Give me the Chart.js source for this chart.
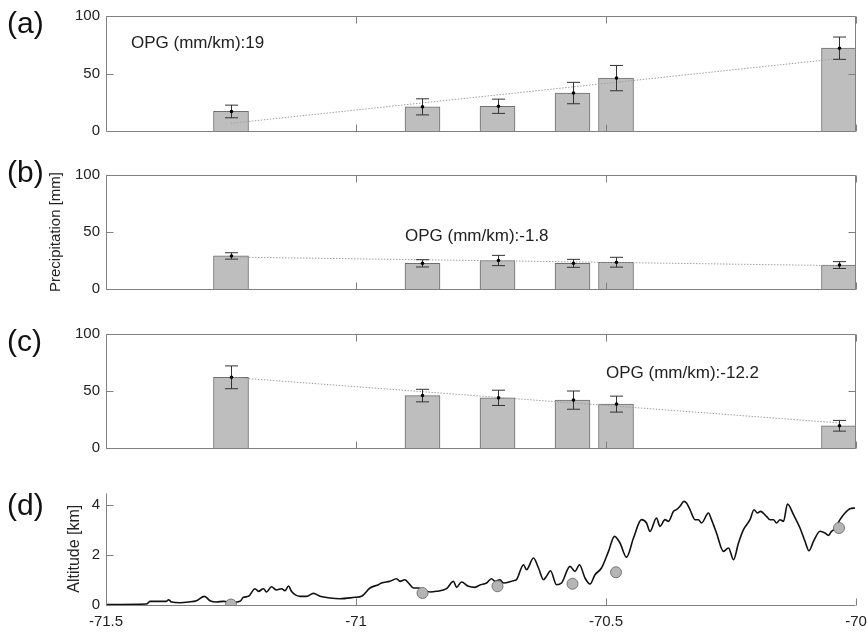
<!DOCTYPE html>
<html>
<head>
<meta charset="utf-8">
<script src="https://cdn.jsdelivr.net/npm/chart.js@4.4.1/dist/chart.umd.min.js"></script>
<style>
body { margin: 0; background: #fff; }
#wrap { position: relative; width: 867px; height: 633px; }
#wrap canvas { position: absolute; left: 0; }
</style>
</head>
<body>
<div id="wrap">
  <canvas id="panelA" width="867" height="150" style="top:0px"></canvas>
  <canvas id="panelB" width="867" height="160" style="top:150px"></canvas>
  <canvas id="panelC" width="867" height="160" style="top:310px"></canvas>
  <canvas id="panelD" width="867" height="163" style="top:470px"></canvas>
</div>
<script>
// station longitudes (deg) and altitudes (km)
const stationLon = [-71.25, -70.867, -70.717, -70.567, -70.48, -70.034];
const stationAlt = [0.02, 0.48, 0.75, 0.85, 1.31, 3.08];

// precipitation per station [mm] and error bar half-lengths
const precipA = [17, 21, 21.5, 33, 46, 72];
const errA = [5.5, 7, 6.2, 9.3, 11, 9.7];
const precipB = [29, 22.5, 25, 22.5, 23.5, 21];
const errB = [2.8, 3.2, 4.5, 3.5, 4.3, 3];
const precipC = [62, 46, 44, 42, 38.5, 19.5];
const errC = [10, 5.5, 6.7, 8, 7, 4.7];

// fitted OPG lines (endpoints)
const trendLon = [-71.25, -70.034];
const trendA = [6.7, 63];
const trendB = [28, 20.5];
const trendC = [62, 22];

// tick values
const lonTicks = [-71.5, -71, -70.5, -70];
const precipTicks = [0, 50, 100];
const altTicks = [0, 2, 4];

// topographic profile along the transect
const profileLon = [-71.5, -71.419, -71.412, -71.379, -71.375, -71.369, -71.352, -71.335, -71.319, -71.303,
  -71.292, -71.279, -71.265, -71.245, -71.232, -71.225, -71.215, -71.202, -71.195, -71.185,
  -71.179, -71.169, -71.159, -71.149, -71.142, -71.135, -71.129, -71.122, -71.112, -71.099,
  -71.085, -71.072, -71.052, -71.032, -71.002, -70.989, -70.972, -70.955, -70.949, -70.932,
  -70.919, -70.912, -70.902, -70.895, -70.885, -70.875, -70.865, -70.852, -70.839, -70.819,
  -70.805, -70.799, -70.789, -70.775, -70.762, -70.752, -70.739, -70.729, -70.722, -70.712,
  -70.705, -70.685, -70.679, -70.665, -70.659, -70.645, -70.635, -70.625, -70.619, -70.611,
  -70.599, -70.589, -70.572, -70.562, -70.553, -70.542, -70.532, -70.522, -70.509, -70.495,
  -70.483, -70.472, -70.459, -70.445, -70.429, -70.419, -70.412, -70.399, -70.392, -70.382,
  -70.375, -70.365, -70.359, -70.352, -70.344, -70.339, -70.332, -70.322, -70.315, -70.309,
  -70.295, -70.289, -70.279, -70.265, -70.255, -70.245, -70.235, -70.225, -70.212, -70.204,
  -70.197, -70.191, -70.179, -70.172, -70.165, -70.159, -70.152, -70.145, -70.137, -70.125,
  -70.112, -70.102, -70.094, -70.085, -70.072, -70.062, -70.055, -70.049, -70.042, -70.032,
  -70.022, -70.012, -70.002];
const profileAlt = [0.02, 0.04, 0.147, 0.147, 0.21, 0.12, 0.093, 0.12, 0.173, 0.347,
  0.173, 0.12, 0.147, 0.107, 0.147, 0.307, 0.347, 0.653, 0.547, 0.653,
  0.52, 0.733, 0.6, 0.653, 0.573, 0.76, 0.547, 0.413, 0.347, 0.347,
  0.467, 0.347, 0.28, 0.253, 0.307, 0.347, 0.68, 0.813, 0.88, 0.947,
  1.053, 0.947, 1.013, 0.88, 0.68, 0.68, 0.613, 0.52, 0.547, 0.653,
  0.947, 0.707, 0.92, 0.747, 0.707, 0.8, 0.88, 1.053, 0.947, 1.013,
  0.88, 0.973, 1.013, 1.613, 1.413, 1.88, 1.48, 1.013, 1.147, 1.373,
  0.813, 0.88, 1.547, 1.347, 1.613, 1.08, 0.84, 1.213, 1.48, 2.147,
  2.747, 2.48, 1.907, 2.68, 3.413, 3.28, 2.947, 3.48, 3.147, 3.413,
  3.347, 3.747, 3.813, 3.947, 4.147, 4.08, 3.813, 3.413, 3.413, 3.28,
  3.68, 3.413, 2.88, 2.147, 2.28, 1.813, 2.48, 3.013, 3.413, 3.813,
  3.68, 3.747, 3.547, 3.413, 3.413, 3.28, 3.413, 3.347, 4.04, 3.613,
  3.08, 2.547, 2.173, 2.547, 2.947, 2.88, 2.787, 2.947, 3.053, 3.413,
  3.68, 3.853, 3.88];

Chart.defaults.font.family = '"Liberation Sans", Arial, Helvetica, sans-serif';
Chart.defaults.color = '#222';
Chart.defaults.animation = false;

// MATLAB-style axes: inward ticks, optional box, error bars and text
const frame = {
  id: 'frame',
  afterDraw(chart, args, o) {
    const { ctx, chartArea: a, scales: { x, y } } = chart;
    ctx.save();

    if (o.values) {
      ctx.strokeStyle = '#333';
      ctx.fillStyle = '#000';
      ctx.lineWidth = 1;
      o.values.forEach((v, i) => {
        const px = Math.round(x.getPixelForValue(stationLon[i])) + 0.5;
        const yt = y.getPixelForValue(v + o.errors[i]);
        const yb = y.getPixelForValue(v - o.errors[i]);
        ctx.beginPath();
        ctx.moveTo(px, yt); ctx.lineTo(px, yb);
        ctx.moveTo(px - 6.5, yt); ctx.lineTo(px + 6.5, yt);
        ctx.moveTo(px - 6.5, yb); ctx.lineTo(px + 6.5, yb);
        ctx.stroke();
        ctx.beginPath();
        ctx.arc(px, y.getPixelForValue(v), 1.8, 0, Math.PI * 2);
        ctx.fill();
      });
    }

    ctx.strokeStyle = '#808080';
    ctx.lineWidth = 1;
    const L = Math.round(a.left) + 0.5, R = Math.round(a.right) - 0.5;
    const T = Math.round(a.top) + 0.5, B = Math.round(a.bottom) + 0.5;
    ctx.beginPath();
    ctx.moveTo(L, T); ctx.lineTo(L, B); ctx.lineTo(R, B);
    if (o.box) { ctx.lineTo(R, T); ctx.lineTo(L, T); }
    x.ticks.forEach(t => {
      const px = Math.round(x.getPixelForValue(t.value)) + 0.5;
      ctx.moveTo(px, B); ctx.lineTo(px, B - 7);
      if (o.box) { ctx.moveTo(px, T); ctx.lineTo(px, T + 7); }
    });
    y.ticks.forEach(t => {
      const py = Math.round(y.getPixelForValue(t.value)) + 0.5;
      ctx.moveTo(L, py); ctx.lineTo(L + 7, py);
      if (o.box) { ctx.moveTo(R, py); ctx.lineTo(R - 7, py); }
    });
    ctx.stroke();

    ctx.fillStyle = '#111';
    ctx.textBaseline = 'middle';
    ctx.textAlign = 'left';
    ctx.font = '30px "Liberation Sans", Arial, sans-serif';
    ctx.fillText(o.label, 7, o.labelY);
    if (o.note) {
      ctx.font = '17px "Liberation Sans", Arial, sans-serif';
      ctx.fillStyle = '#222';
      ctx.fillText(o.note.text, x.getPixelForValue(o.note.x), y.getPixelForValue(o.note.y));
    }
    ctx.restore();
  }
};

function setTicks(values) {
  return s => { s.ticks = values.map(v => ({ value: v })); };
}

function lonAxis(height, showLabels) {
  return {
    type: 'linear',
    min: lonTicks[0],
    max: lonTicks[lonTicks.length - 1],
    offset: false,
    afterBuildTicks: setTicks(lonTicks),
    ticks: { display: showLabels, padding: 8, maxRotation: 0, autoSkip: false,
      font: { size: 15 }, color: '#222', callback: v => String(v) },
    grid: { display: false, drawTicks: false, offset: false },
    border: { display: false },
    afterFit(s) { s.height = height; s.paddingLeft = 0; s.paddingRight = 0; }
  };
}

function precipChart(id, values, errors, trend, cfg) {
  return new Chart(document.getElementById(id), {
    type: 'bar',
    data: {
      datasets: [
        {
          type: 'scatter',
          data: trendLon.map((lon, i) => ({ x: lon, y: trend[i] })),
          showLine: true,
          borderColor: '#a0a0a0',
          borderWidth: 1,
          borderDash: [1.5, 1.5],
          pointRadius: 0
        },
        {
          type: 'bar',
          data: stationLon.map((lon, i) => ({ x: lon, y: values[i] })),
          backgroundColor: '#bebebe',
          borderColor: '#6e6e6e',
          borderWidth: 1,
          barThickness: 35
        }
      ]
    },
    options: {
      responsive: false,
      events: [],
      layout: { padding: { top: cfg.top, right: 11, left: 0, bottom: 0 } },
      plugins: {
        legend: { display: false },
        tooltip: { enabled: false },
        frame: { box: true, values: values, errors: errors, label: cfg.label, labelY: cfg.labelY, note: cfg.note }
      },
      scales: {
        x: lonAxis(cfg.xh, false),
        y: {
          min: precipTicks[0],
          max: precipTicks[precipTicks.length - 1],
          afterBuildTicks: setTicks(precipTicks),
          ticks: { padding: 6, font: { size: 15 }, color: '#222' },
          grid: { display: false, drawTicks: false },
          border: { display: false },
          title: cfg.title
            ? { display: true, text: cfg.title, font: { size: 15 }, color: '#222', padding: { top: 47, bottom: 0 } }
            : { display: false },
          afterFit(s) { s.width = 106; }
        }
      }
    },
    plugins: [frame]
  });
}

precipChart('panelA', precipA, errA, trendA, {
  top: 16, xh: 19, label: '(a)', labelY: 25,
  note: { text: 'OPG (mm/km):19', x: -71.45, y: 76.5 }
});
precipChart('panelB', precipB, errB, trendB, {
  top: 25, xh: 21, label: '(b)', labelY: 24, title: 'Precipitation [mm]',
  note: { text: 'OPG (mm/km):-1.8', x: -70.902, y: 45.8 }
});
precipChart('panelC', precipC, errC, trendC, {
  top: 24, xh: 22, label: '(c)', labelY: 33,
  note: { text: 'OPG (mm/km):-12.2', x: -70.5, y: 65.6 }
});

new Chart(document.getElementById('panelD'), {
  type: 'scatter',
  data: {
    datasets: [
      {
        data: stationLon.map((lon, i) => ({ x: lon, y: stationAlt[i] })),
        pointRadius: 5.5,
        pointBackgroundColor: '#b5b5b5',
        pointBorderColor: '#777',
        pointBorderWidth: 1
      },
      {
        data: profileLon.map((lon, i) => ({ x: lon, y: profileAlt[i] })),
        showLine: true,
        borderColor: '#111',
        borderWidth: 1.6,
        cubicInterpolationMode: 'monotone',
        pointRadius: 0
      }
    ]
  },
  options: {
    responsive: false,
    events: [],
    layout: { padding: { top: 22.5, right: 11, left: 0, bottom: 0 } },
    plugins: {
      legend: { display: false },
      tooltip: { enabled: false },
      frame: { box: false, label: '(d)', labelY: 37 }
    },
    scales: {
      x: lonAxis(28, true),
      y: {
        min: 0,
        max: 4.5,
        afterBuildTicks: setTicks(altTicks),
        ticks: { padding: 6, font: { size: 15 }, color: '#222' },
        grid: { display: false, drawTicks: false },
        border: { display: false },
        title: { display: true, text: 'Altitude [km]', font: { size: 16 }, color: '#222', padding: { top: 65, bottom: 0 } },
        afterFit(s) { s.width = 106; }
      }
    }
  },
  plugins: [frame]
});
</script>
</body>
</html>
